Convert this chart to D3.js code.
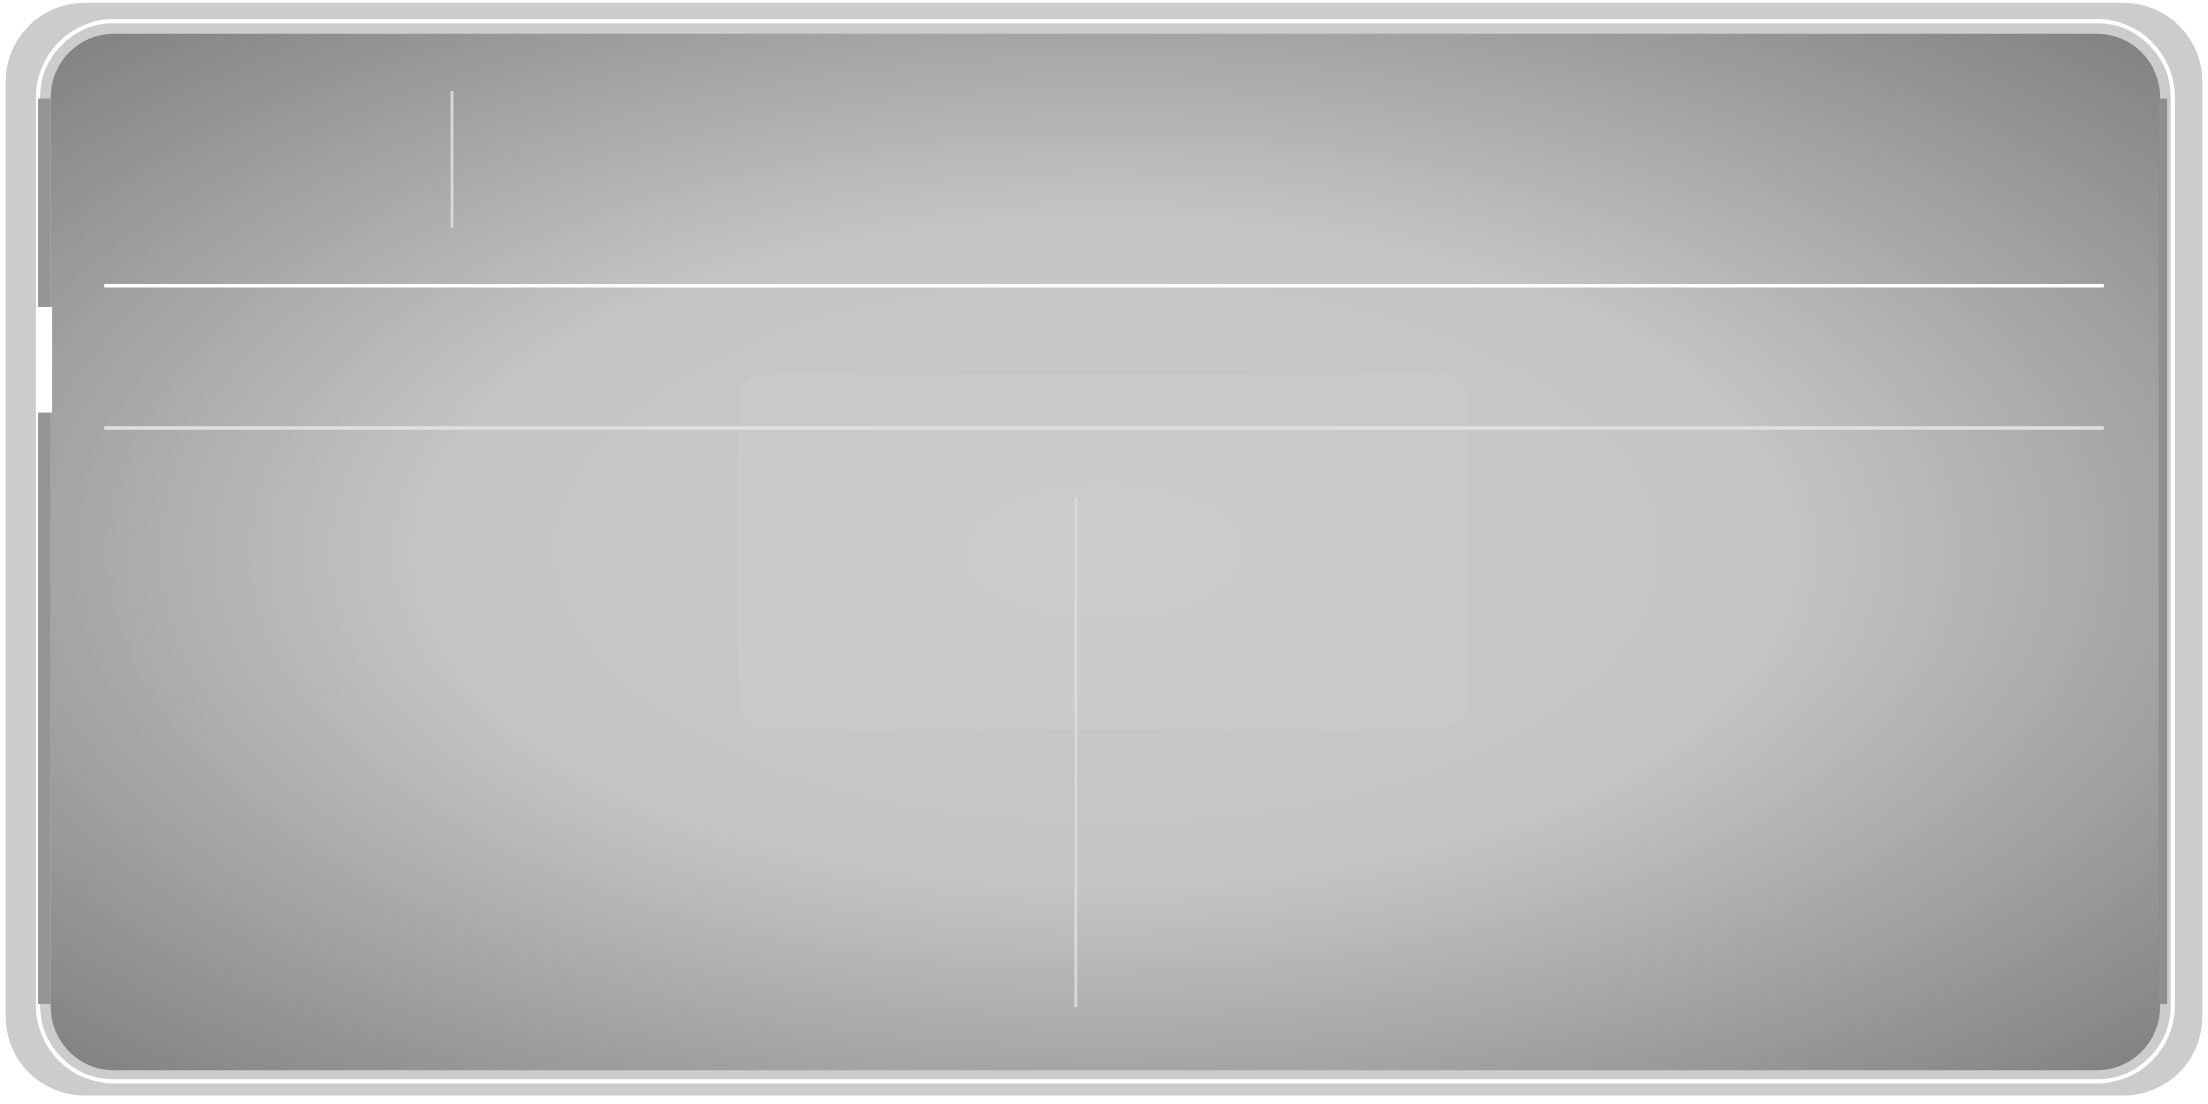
<!DOCTYPE html>
<html><head><meta charset="utf-8">
<script src="https://cdn.jsdelivr.net/npm/d3@7"></script>
<style>html,body{margin:0;padding:0;background:#fff;overflow:hidden}</style>
</head><body>
<svg id="chart" width="2208" height="1104"></svg>
<script>
// horizontal rules (value on y scale) and their colors
const ruleValues = [1, 0]
const ruleColors = ['#ffffff', '#e0e0e0']
// vertical markers: category position, start value, end value
const markerCats = ['a', 'b']
const markerFrom = [2.37, -0.49]
const markerTo = [1.41, -4.07]

const svg = d3.select('#chart')
    .attr('viewBox', '0 0 1568 784')
    .attr('preserveAspectRatio', 'none')

const defs = svg.append('defs')
const grad = defs.append('radialGradient').attr('id', 'bg')
    .attr('cx', '50%').attr('cy', '50%').attr('r', '72%')
grad.append('stop').attr('offset', '0%').attr('stop-color', '#cbcbcb')
grad.append('stop').attr('offset', '45%').attr('stop-color', '#c4c4c4')
grad.append('stop').attr('offset', '100%').attr('stop-color', '#7e7e7e')

// outer frame
svg.append('rect').attr('x', 4).attr('y', 2).attr('width', 1560).attr('height', 776)
    .attr('rx', 56).attr('fill', '#cccccc')
svg.append('rect').attr('x', 27).attr('y', 15).attr('width', 1516).attr('height', 753)
    .attr('rx', 54).attr('fill', 'none').attr('stroke', '#fff').attr('stroke-width', 3)
svg.append('rect').attr('x', 36).attr('y', 24).attr('width', 1498).attr('height', 736)
    .attr('rx', 45).attr('fill', 'url(#bg)')
// inner side strips
svg.append('rect').attr('x', 27).attr('y', 70).attr('width', 9).attr('height', 643).attr('fill', '#959595')
svg.append('rect').attr('x', 1533).attr('y', 70).attr('width', 6).attr('height', 643).attr('fill', '#8e8e8e')
svg.append('rect').attr('x', 26).attr('y', 218).attr('width', 11).attr('height', 75).attr('fill', '#fff')
// inner soft panel
svg.append('rect').attr('x', 524).attr('y', 265).attr('width', 518).attr('height', 253)
    .attr('rx', 20).attr('fill', '#cccccc').attr('opacity', 0.5)

const x = d3.scaleBand().domain(markerCats).range([74, 1494])
const xp = d3.scalePoint().domain(markerCats).range([321, 764])
const y = d3.scaleLinear().domain([0, 1]).range([304, 203])

svg.append('g').selectAll('line').data(ruleValues).join('line')
    .attr('x1', x.range()[0]).attr('x2', x.range()[1])
    .attr('y1', d => y(d)).attr('y2', d => y(d))
    .attr('stroke', (d, i) => ruleColors[i]).attr('stroke-width', 2.5)

svg.append('g').selectAll('line').data(markerCats).join('line')
    .attr('x1', d => xp(d)).attr('x2', d => xp(d))
    .attr('y1', (d, i) => y(markerFrom[i])).attr('y2', (d, i) => y(markerTo[i]))
    .attr('stroke', '#d9d9d9').attr('stroke-width', 2)
</script>
</body></html>
